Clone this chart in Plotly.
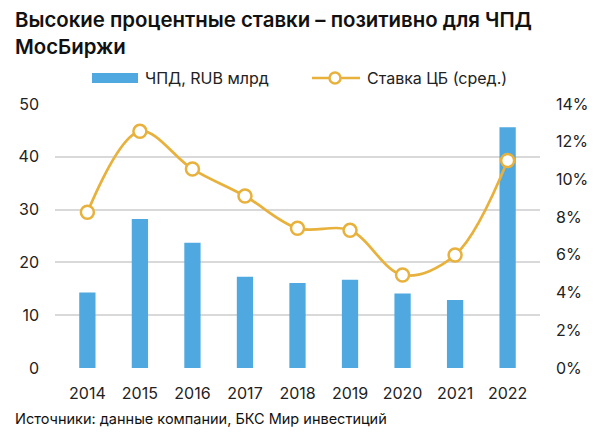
import plotly.graph_objects as go

years = ["2014", "2015", "2016", "2017", "2018", "2019", "2020", "2021", "2022"]
nii = [14.3, 28.2, 23.7, 17.3, 16.1, 16.7, 14.1, 12.9, 45.6]
rate = [0.0826, 0.1255, 0.1055, 0.0912, 0.0741, 0.0730, 0.0493, 0.0599, 0.1100]
bar_name = "ЧПД, RUB млрд"
line_name = "Ставка ЦБ (сред.)"
title = "Высокие процентные ставки – позитивно для ЧПД<br>МосБиржи"
source = "Источники: данные компании, БКС Мир инвестиций"

BLUE = "#4FA9E0"
GOLD = "#E8B13C"
FONT = "Inter"
TXT = "#222222"

W, H = 600, 435
ML, MR, MT, MB = 55, 60, 104, 67
PW, PH = W - ML - MR, H - MT - MB


def px(x):
    return (x - ML) / PW


def py(y):
    return (H - MB - y) / PH


fig = go.Figure()
fig.add_trace(go.Bar(
    x=years, y=nii, name=bar_name,
    marker=dict(color=BLUE, line=dict(width=0)),
    yaxis="y", showlegend=False,
))
fig.add_trace(go.Scatter(
    x=years, y=rate, name=line_name,
    mode="lines+markers",
    line=dict(color=GOLD, width=2.7, shape="spline", smoothing=1.0),
    marker=dict(size=13, color="white", line=dict(color=GOLD, width=2.5)),
    yaxis="y2", showlegend=False,
))

shapes = [
    # legend icons
    dict(type="rect", xref="paper", yref="paper", x0=px(92), x1=px(138), y0=py(83), y1=py(73),
         fillcolor=BLUE, line=dict(width=0)),
    dict(type="line", xref="paper", yref="paper", x0=px(312), x1=px(360), y0=py(78), y1=py(78),
         line=dict(color=GOLD, width=2.7)),
    dict(type="circle", xref="paper", yref="paper", x0=px(329.5), x1=px(340.5), y0=py(83.5), y1=py(72.5),
         fillcolor="white", line=dict(color=GOLD, width=2.5)),
]

fig.update_layout(
    width=W, height=H,
    margin=dict(l=ML, r=MR, t=MT, b=MB),
    paper_bgcolor="white", plot_bgcolor="white",
    font=dict(family=FONT, color=TXT, size=14),
    bargap=0.69,
    showlegend=False,
    xaxis=dict(
        type="category", showgrid=False, zeroline=False, showline=False,
        ticks="", tickfont=dict(size=16, color=TXT), automargin=False,
        ticklabelstandoff=14,
    ),
    yaxis=dict(
        range=[0, 50], dtick=10, showgrid=True, gridcolor="#D9D9D9", gridwidth=1.5,
        zeroline=False, showline=False, ticks="", automargin=False,
        tickfont=dict(size=16, color=TXT), ticklabelstandoff=15,
    ),
    yaxis2=dict(
        range=[0, 0.14], dtick=0.02, tickformat=".0%", overlaying="y", side="right",
        showgrid=False, zeroline=False, showline=False, ticks="", automargin=False,
        tickfont=dict(size=16, color=TXT), ticklabelstandoff=15,
    ),
    shapes=shapes,
    annotations=[
        dict(text=title, xref="paper", yref="paper", x=px(13), y=py(5),
             showarrow=False, xanchor="left", yanchor="top", align="left",
             font=dict(size=20.4, color="#111111", family=FONT, weight=600)),
        dict(text=bar_name, xref="paper", yref="paper", x=px(143), y=py(78),
             showarrow=False, xanchor="left", yanchor="middle",
             font=dict(size=16, color=TXT, family=FONT)),
        dict(text=line_name, xref="paper", yref="paper", x=px(365), y=py(78),
             showarrow=False, xanchor="left", yanchor="middle",
             font=dict(size=16, color=TXT, family=FONT)),
        dict(text=source, xref="paper", yref="paper", x=px(13), y=py(418),
             showarrow=False, xanchor="left", yanchor="middle", align="left",
             font=dict(size=14.5, color="#111111", family=FONT)),
    ],
)

fig.write_html("out.html")
